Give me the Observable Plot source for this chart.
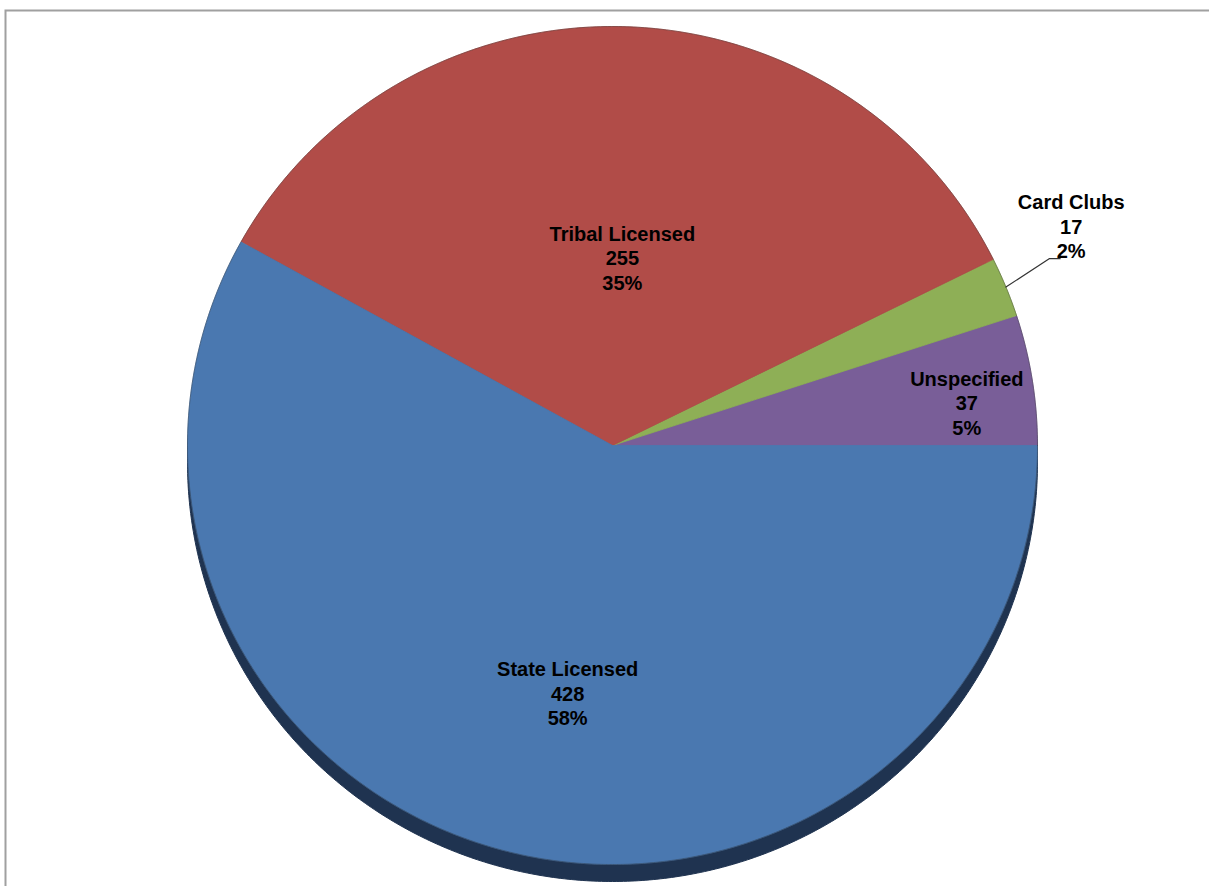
<!DOCTYPE html>
<html><head><meta charset="utf-8">
<script src="https://cdn.jsdelivr.net/npm/d3@7"></script>
<script src="https://cdn.jsdelivr.net/npm/@observablehq/plot@0.6"></script>
<style>body{margin:0;background:#fff}</style>
</head><body><div id="chart"></div>
<script>
// Data
const categories = ["Unspecified", "Card Clubs", "Tribal Licensed", "State Licensed"];
const values = [37, 17, 255, 428];
const percentLabels = ["5%", "2%", "35%", "58%"];
const colors = ["#795E98", "#8EAF56", "#B14C48", "#4A78B0"];

// Layout
const W = 1209, H = 886, cx = 612, cy = 445, rx = 425, ry = 419;
const shadowDy = 17;
const labelLayout = [{r: 0.84, nudge: -2}, {r: 1.2, nudge: 3.7}, {r: 0.45, nudge: -1.6}, {r: 0.6, nudge: 4.4}];

const total = d3.sum(values);
let acc = 0;
const slices = categories.map((c, i) => {
  const a0 = acc / total * 2 * Math.PI; acc += values[i];
  const a1 = acc / total * 2 * Math.PI;
  return {c, i, a0, a1, mid: (a0 + a1) / 2};
});
const pt = (a, r = 1, dy = 0) => ({x: cx + rx * r * Math.cos(a), y: cy - ry * r * Math.sin(a) + dy});
function poly(a0, a1, dy = 0, withCenter = true) {
  const n = Math.max(4, Math.ceil((a1 - a0) / (Math.PI / 360)));
  const pts = withCenter ? [{x: cx, y: cy + dy}] : [];
  for (let k = 0; k <= n; k++) pts.push(pt(a0 + (a1 - a0) * k / n, 1, dy));
  if (withCenter) pts.push({x: cx, y: cy + dy});
  return pts;
}
const labels = slices.map((s, i) => {
  const p = pt(s.mid + labelLayout[i].nudge * Math.PI / 180, labelLayout[i].r);
  return {...p, text: `${categories[i]}\n${values[i]}\n${percentLabels[i]}`};
});
// leader line for Card Clubs (outside label)
const cc = labels[1];
const leader = [pt(slices[1].mid, 1.0), {x: cc.x - 22, y: cc.y + 33}, {x: cc.x - 11, y: cc.y + 33}];

const marks = [
  Plot.frame({stroke: "#a0a0a0", strokeWidth: 2, insetLeft: 5, insetTop: 10, insetRight: -10, insetBottom: -10}),
  Plot.line(poly(0, 2 * Math.PI, shadowDy, false), {x: "x", y: "y", fill: "#1F3350", stroke: "#1F3350", strokeWidth: 1}),
  ...slices.map((s, i) => Plot.line(poly(s.a0, s.a1), {x: "x", y: "y", fill: colors[i], stroke: colors[i], strokeWidth: 0.8})),
  Plot.line(poly(0, 2 * Math.PI, 0, false), {x: "x", y: "y", stroke: "#2a2a2a", strokeOpacity: 0.35, strokeWidth: 1}),
  Plot.line(leader, {x: "x", y: "y", stroke: "#333", strokeWidth: 1.2}),
  Plot.text(labels, {x: "x", y: "y", text: "text", fontFamily: "Liberation Sans, Arial, sans-serif", fontWeight: "bold", fontSize: 20, lineHeight: 1.225, fill: "#000", textAnchor: "middle", lineAnchor: "middle"})
];

const chart = Plot.plot({
  width: W, height: H, margin: 0,
  x: {domain: [0, W], range: [0, W], axis: null},
  y: {domain: [0, H], range: [0, H], axis: null},
  style: {background: "#fff", overflow: "hidden"},
  marks
});
document.getElementById("chart").appendChild(chart);
</script>
</body></html>
